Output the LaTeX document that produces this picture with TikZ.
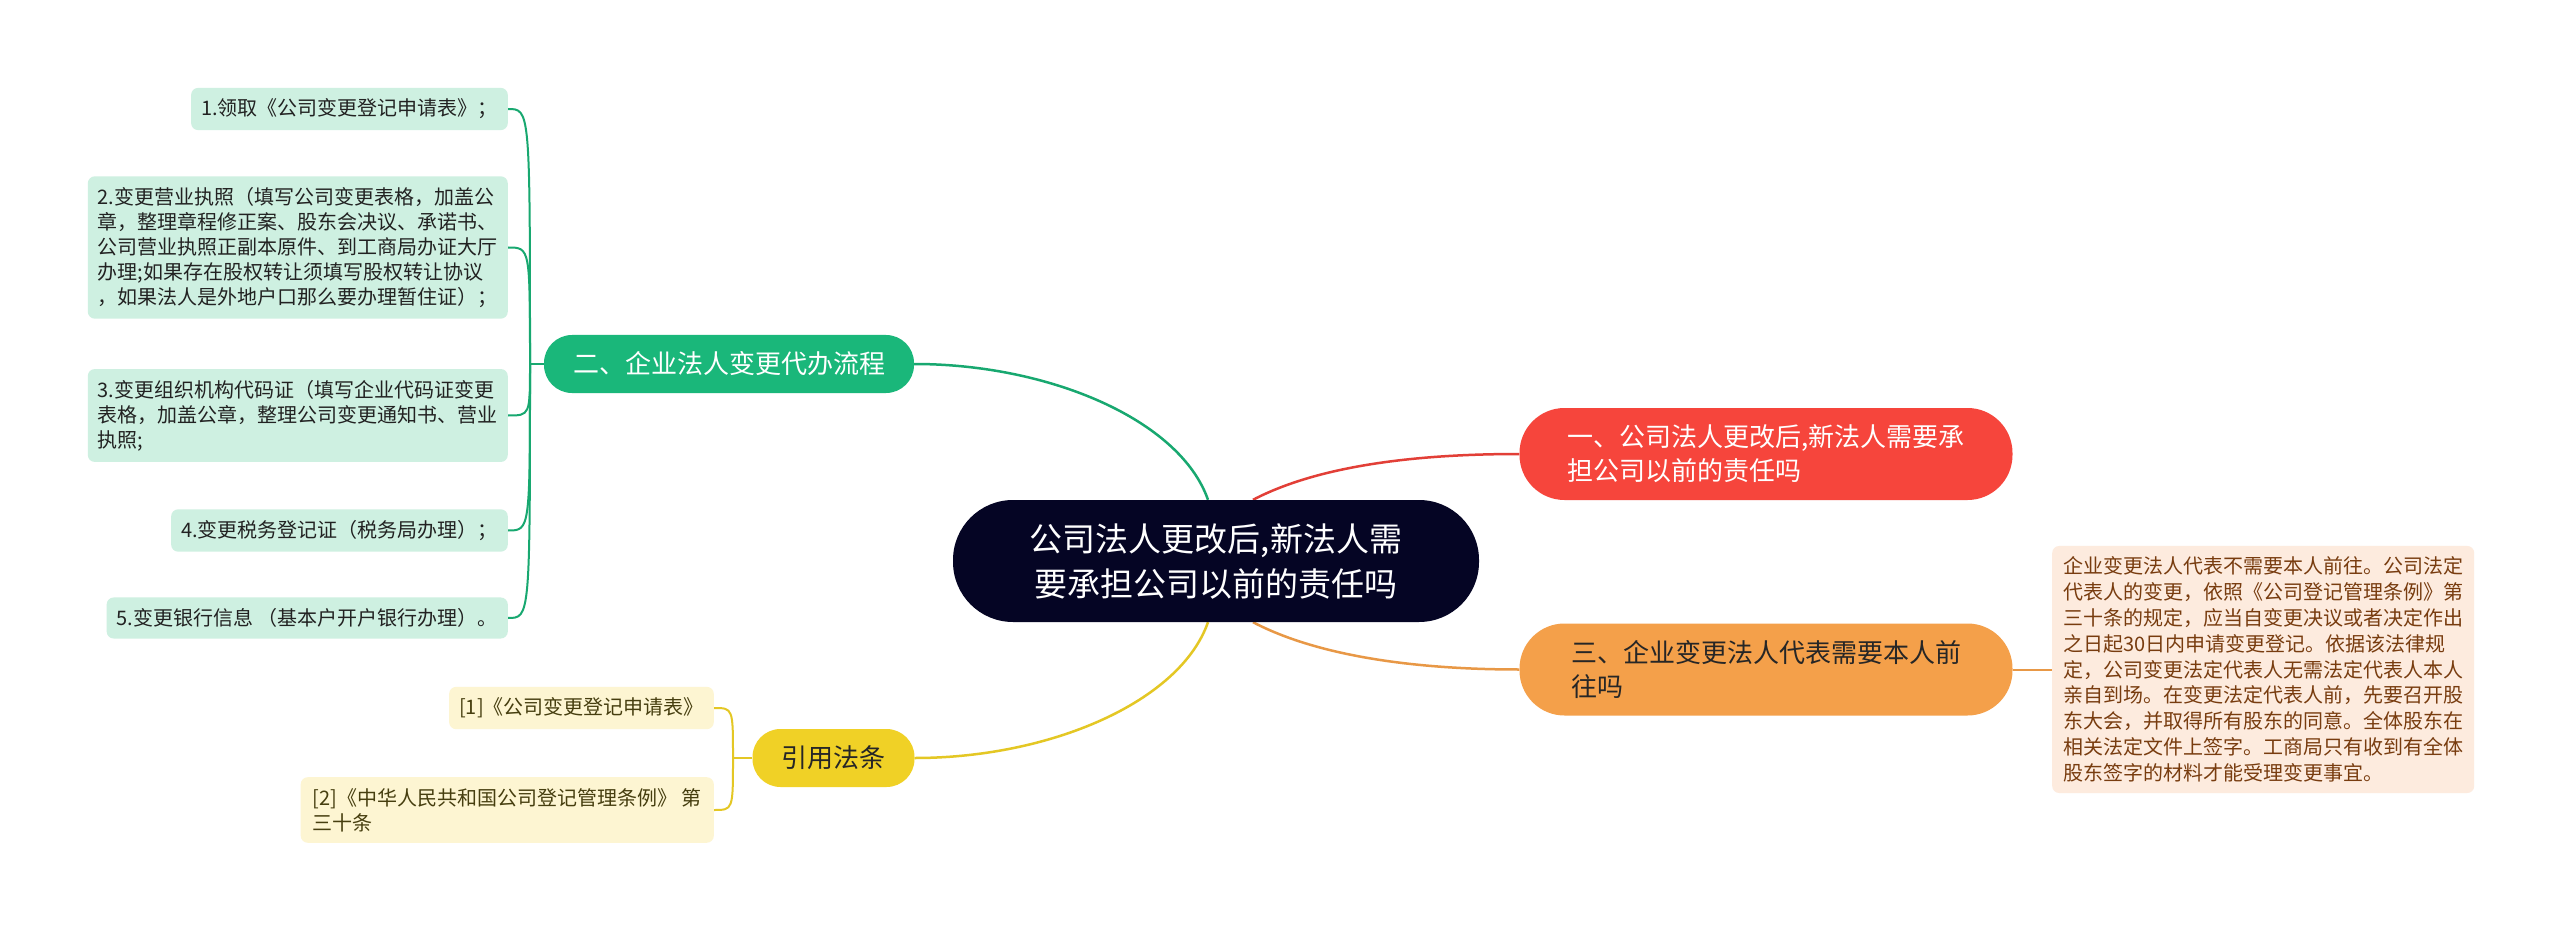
\documentclass[tikz,border=0pt]{standalone}
\usepackage{fontspec}
\setmainfont{Noto Sans CJK SC}
\usepackage{xcolor}
\usetikzlibrary{backgrounds}

\definecolor{rootbg}{RGB}{5,5,36}
\definecolor{redbr}{RGB}{246,69,60}
\definecolor{orangebr}{RGB}{244,160,74}
\definecolor{greenbr}{RGB}{26,183,122}
\definecolor{yellowbr}{RGB}{240,209,38}
\definecolor{greenleaf}{RGB}{206,240,225}
\definecolor{yellowleaf}{RGB}{253,245,210}
\definecolor{orangeleaf}{RGB}{253,235,222}
\definecolor{browntext}{RGB}{120,60,15}
\definecolor{olivetext}{RGB}{70,62,15}
\definecolor{leaftext}{RGB}{34,34,34}

\newcommand{\rootsize}{\fontsize{33pt}{45pt}\selectfont}
\newcommand{\branchsize}{\fontsize{26pt}{34pt}\selectfont}
\newcommand{\leafsize}{\fontsize{20pt}{25pt}\selectfont}

\begin{document}
\begin{tikzpicture}[x=1pt,y=-1pt,
  rootnode/.style={fill=rootbg,text=white,rounded corners=60pt,minimum width=526pt,minimum height=122pt,align=center,font=\rootsize},
  branch/.style={rounded corners=28pt,minimum height=58pt,inner xsep=29pt,font=\branchsize},
  bigbranch/.style={rounded corners=45pt,minimum width=493pt,minimum height=92pt,align=left,font=\branchsize},
  leaf/.style={rounded corners=7pt,inner xsep=10pt,inner ysep=11pt,align=left,font=\leafsize,anchor=east},
  link/.style={line width=2.5pt},
  sublink/.style={line width=2pt}]
  \useasboundingbox (0,0) rectangle (2560,933);

  \node[rootnode] (root) at (1216,561) {公司法人更改后,新法人需\\要承担公司以前的责任吗};
  \node[bigbranch,fill=redbr,text=white] (red) at (1766,454) {一、公司法人更改后,新法人需要承\\担公司以前的责任吗};
  \node[bigbranch,fill=orangebr,text=black!85] (orange) at (1766,669.5) {三、企业变更法人代表需要本人前\\往吗};
  \node[fill=orangeleaf,text=browntext,rounded corners=7pt,inner sep=11pt,align=left,anchor=west,font=\fontsize{20pt}{25.8pt}\selectfont] (detail) at (2052,669.5) {企业变更法人代表不需要本人前往。公司法定\\代表人的变更，依照《公司登记管理条例》第\\三十条的规定，应当自变更决议或者决定作出\\之日起30日内申请变更登记。依据该法律规\\定，公司变更法定代表人无需法定代表人本人\\亲自到场。在变更法定代表人前，先要召开股\\东大会，并取得所有股东的同意。全体股东在\\相关法定文件上签字。工商局只有收到有全体\\股东签字的材料才能受理变更事宜。};
  \node[branch,fill=greenbr,text=white] (green) at (729,364) {二、企业法人变更代办流程};
  \node[branch,fill=yellowbr,text=black!85] (yellow) at (833.5,758) {引用法条};

  \node[leaf,fill=greenleaf,text=leaftext] (s1) at (508,109) {1.领取《公司变更登记申请表》；};
  \node[leaf,fill=greenleaf,text=leaftext] (s2) at (508,247.5) {2.变更营业执照（填写公司变更表格，加盖公\\章，整理章程修正案、股东会决议、承诺书、\\公司营业执照正副本原件、到工商局办证大厅\\办理;如果存在股权转让须填写股权转让协议\\，如果法人是外地户口那么要办理暂住证）；};
  \node[leaf,fill=greenleaf,text=leaftext] (s3) at (508,415.5) {3.变更组织机构代码证（填写企业代码证变更\\表格，加盖公章，整理公司变更通知书、营业\\执照;};
  \node[leaf,fill=greenleaf,text=leaftext] (s4) at (508,530.5) {4.变更税务登记证（税务局办理）；};
  \node[leaf,fill=greenleaf,text=leaftext] (s5) at (508,618) {5.变更银行信息 （基本户开户银行办理）。};

  \node[leaf,fill=yellowleaf,text=olivetext] (r1) at (714,708) {[1]《公司变更登记申请表》};
  \node[leaf,fill=yellowleaf,text=olivetext,inner xsep=12pt] (r2) at (714,810) {[2]《中华人民共和国公司登记管理条例》 第\\三十条};

  \coordinate (gfork) at (530,364);
  \coordinate (yfork) at (733,758);

  \begin{pgfonlayer}{background}
    \fill[white] (0,0) rectangle (2560,933);
    \draw[link,greenbr!92!black] (green.east) .. controls +(135,0) and +(-28,-80) .. ([xshift=-8pt]root.north);
    \draw[link,yellowbr!95!black] (yellow.east) .. controls +(135,0) and +(-28,80) .. ([xshift=-8pt]root.south);
    \draw[link,redbr!92!black] ([xshift=37pt]root.north) .. controls +(67,-35) and +(-100,0) .. (red.west);
    \draw[link,orangebr!95!black] ([xshift=37pt]root.south) .. controls +(67,35) and +(-100,0) .. (orange.west);
    \draw[sublink,orangebr!95!black] (orange.east) -- (detail.west);
    \draw[sublink,greenbr!92!black] (green.west) -- (gfork);
    \foreach \leafname in {s1,s2,s3,s4,s5}
      \draw[sublink,greenbr!92!black] (gfork) .. controls (gfork |- \leafname.east) .. (\leafname.east);
    \draw[sublink,yellowbr!95!black] (yellow.west) -- (yfork);
    \foreach \leafname in {r1,r2}
      \draw[sublink,yellowbr!95!black] (yfork) .. controls (yfork |- \leafname.east) .. (\leafname.east);
  \end{pgfonlayer}
\end{tikzpicture}
\end{document}
